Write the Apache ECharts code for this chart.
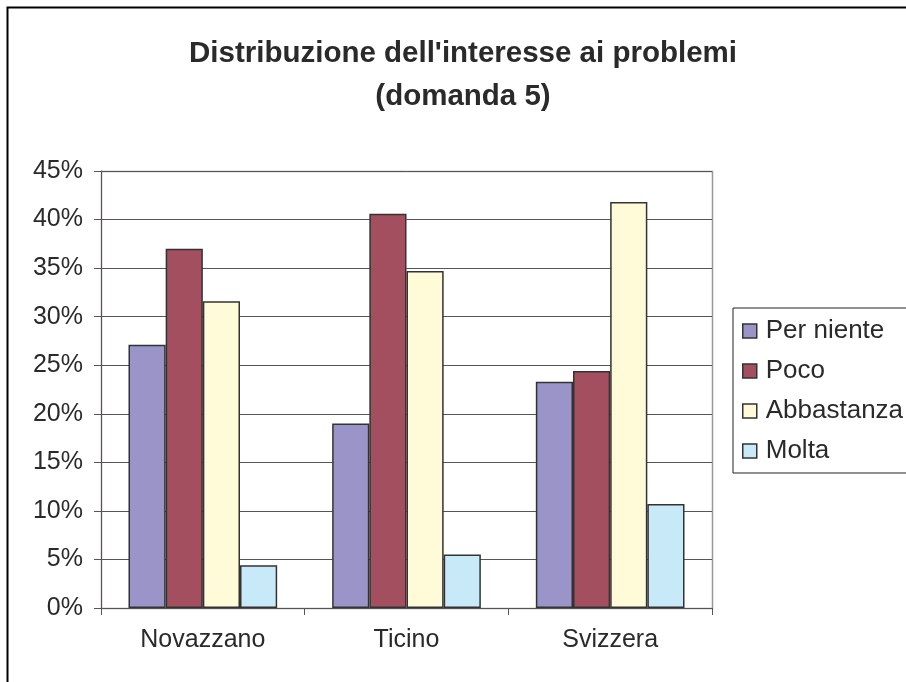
<!DOCTYPE html>
<html>
<head>
<meta charset="UTF-8">
<title></title>
<script type="text/javascript" src="https://cdn.jsdelivr.net/npm/echarts@6/dist/echarts.min.js"></script>
<style type="text/css">
	* { padding: 0; margin: 0; }
	#main { width: 906px; height: 682px; background: #fff; }
</style>
</head>
<body>
<div id="main"></div>
<script type="text/javascript">
var categories = ['Novazzano', 'Ticino', 'Svizzera'];
var perNiente = [27.1, 19.0, 23.3];
var poco = [37.0, 40.6, 24.4];
var abbastanza = [31.6, 34.7, 41.8];
var molta = [4.4, 5.5, 10.7];
var seriesNames = ['Per niente', 'Poco', 'Abbastanza', 'Molta'];
var seriesColors = ['#9b94c8', '#a34f5f', '#fffad7', '#c8e9f8'];

var font = '"Liberation Sans", Arial, sans-serif';
var myChart = echarts.init(document.getElementById('main'));

function bar(i, data) {
	return {
		name: seriesNames[i],
		type: 'bar',
		data: data,
		barGap: '0%',
		barCategoryGap: '27%',
		itemStyle: { color: seriesColors[i], borderColor: '#333', borderWidth: 1.5 },
		emphasis: { disabled: true }
	};
}

myChart.setOption({
	animation: false,
	title: {
		text: "Distribuzione dell'interesse ai problemi\n(domanda 5)",
		left: 458,
		textAlign: 'center',
		top: 27,
		textStyle: { fontFamily: font, fontSize: 29.5, fontWeight: 'bold', color: '#2a2a2a', lineHeight: 43 }
	},
	graphic: [{
		type: 'rect',
		shape: { x: 7.5, y: 7.5, width: 1000, height: 1000 },
		style: { fill: 'none', stroke: '#000', lineWidth: 2 },
		silent: true
	}, {
		type: 'rect',
		shape: { x: 101.5, y: 171.5, width: 611, height: 437 },
		style: { fill: 'none', stroke: '#a09894', lineWidth: 1.5 },
		silent: true,
		z: -1
	}],
	legend: {
		orient: 'vertical',
		left: 733,
		top: 308,
		width: 200,
		padding: [10, 30, 9, 9],
		itemGap: 14,
		itemWidth: 14,
		itemHeight: 14,
		borderColor: '#222',
		borderWidth: 1,
		icon: 'rect',
		itemStyle: { borderColor: '#333', borderWidth: 1.5 },
		textStyle: { fontFamily: font, fontSize: 26, lineHeight: 26, color: '#2a2a2a', padding: [0, 0, 0, 4] },
		data: seriesNames
	},
	grid: { left: 101, top: 171, width: 611, height: 437, containLabel: false },
	xAxis: {
		type: 'category',
		data: categories,
		axisLine: { lineStyle: { color: '#555', width: 1 } },
		axisTick: { show: true, length: 7, lineStyle: { color: '#555' } },
		axisLabel: { fontFamily: font, fontSize: 25, color: '#2a2a2a', margin: 20 }
	},
	yAxis: {
		type: 'value',
		min: 0,
		max: 45,
		interval: 5,
		axisLine: { show: true, lineStyle: { color: '#555', width: 1 } },
		axisTick: { show: true, length: 7, lineStyle: { color: '#555' } },
		axisLabel: { fontFamily: font, fontSize: 25, color: '#2a2a2a', margin: 18, formatter: '{value}%' },
		splitLine: { lineStyle: { color: '#555', width: 1 } }
	},
	series: [bar(0, perNiente), bar(1, poco), bar(2, abbastanza), bar(3, molta)]
});
</script>
</body>
</html>
